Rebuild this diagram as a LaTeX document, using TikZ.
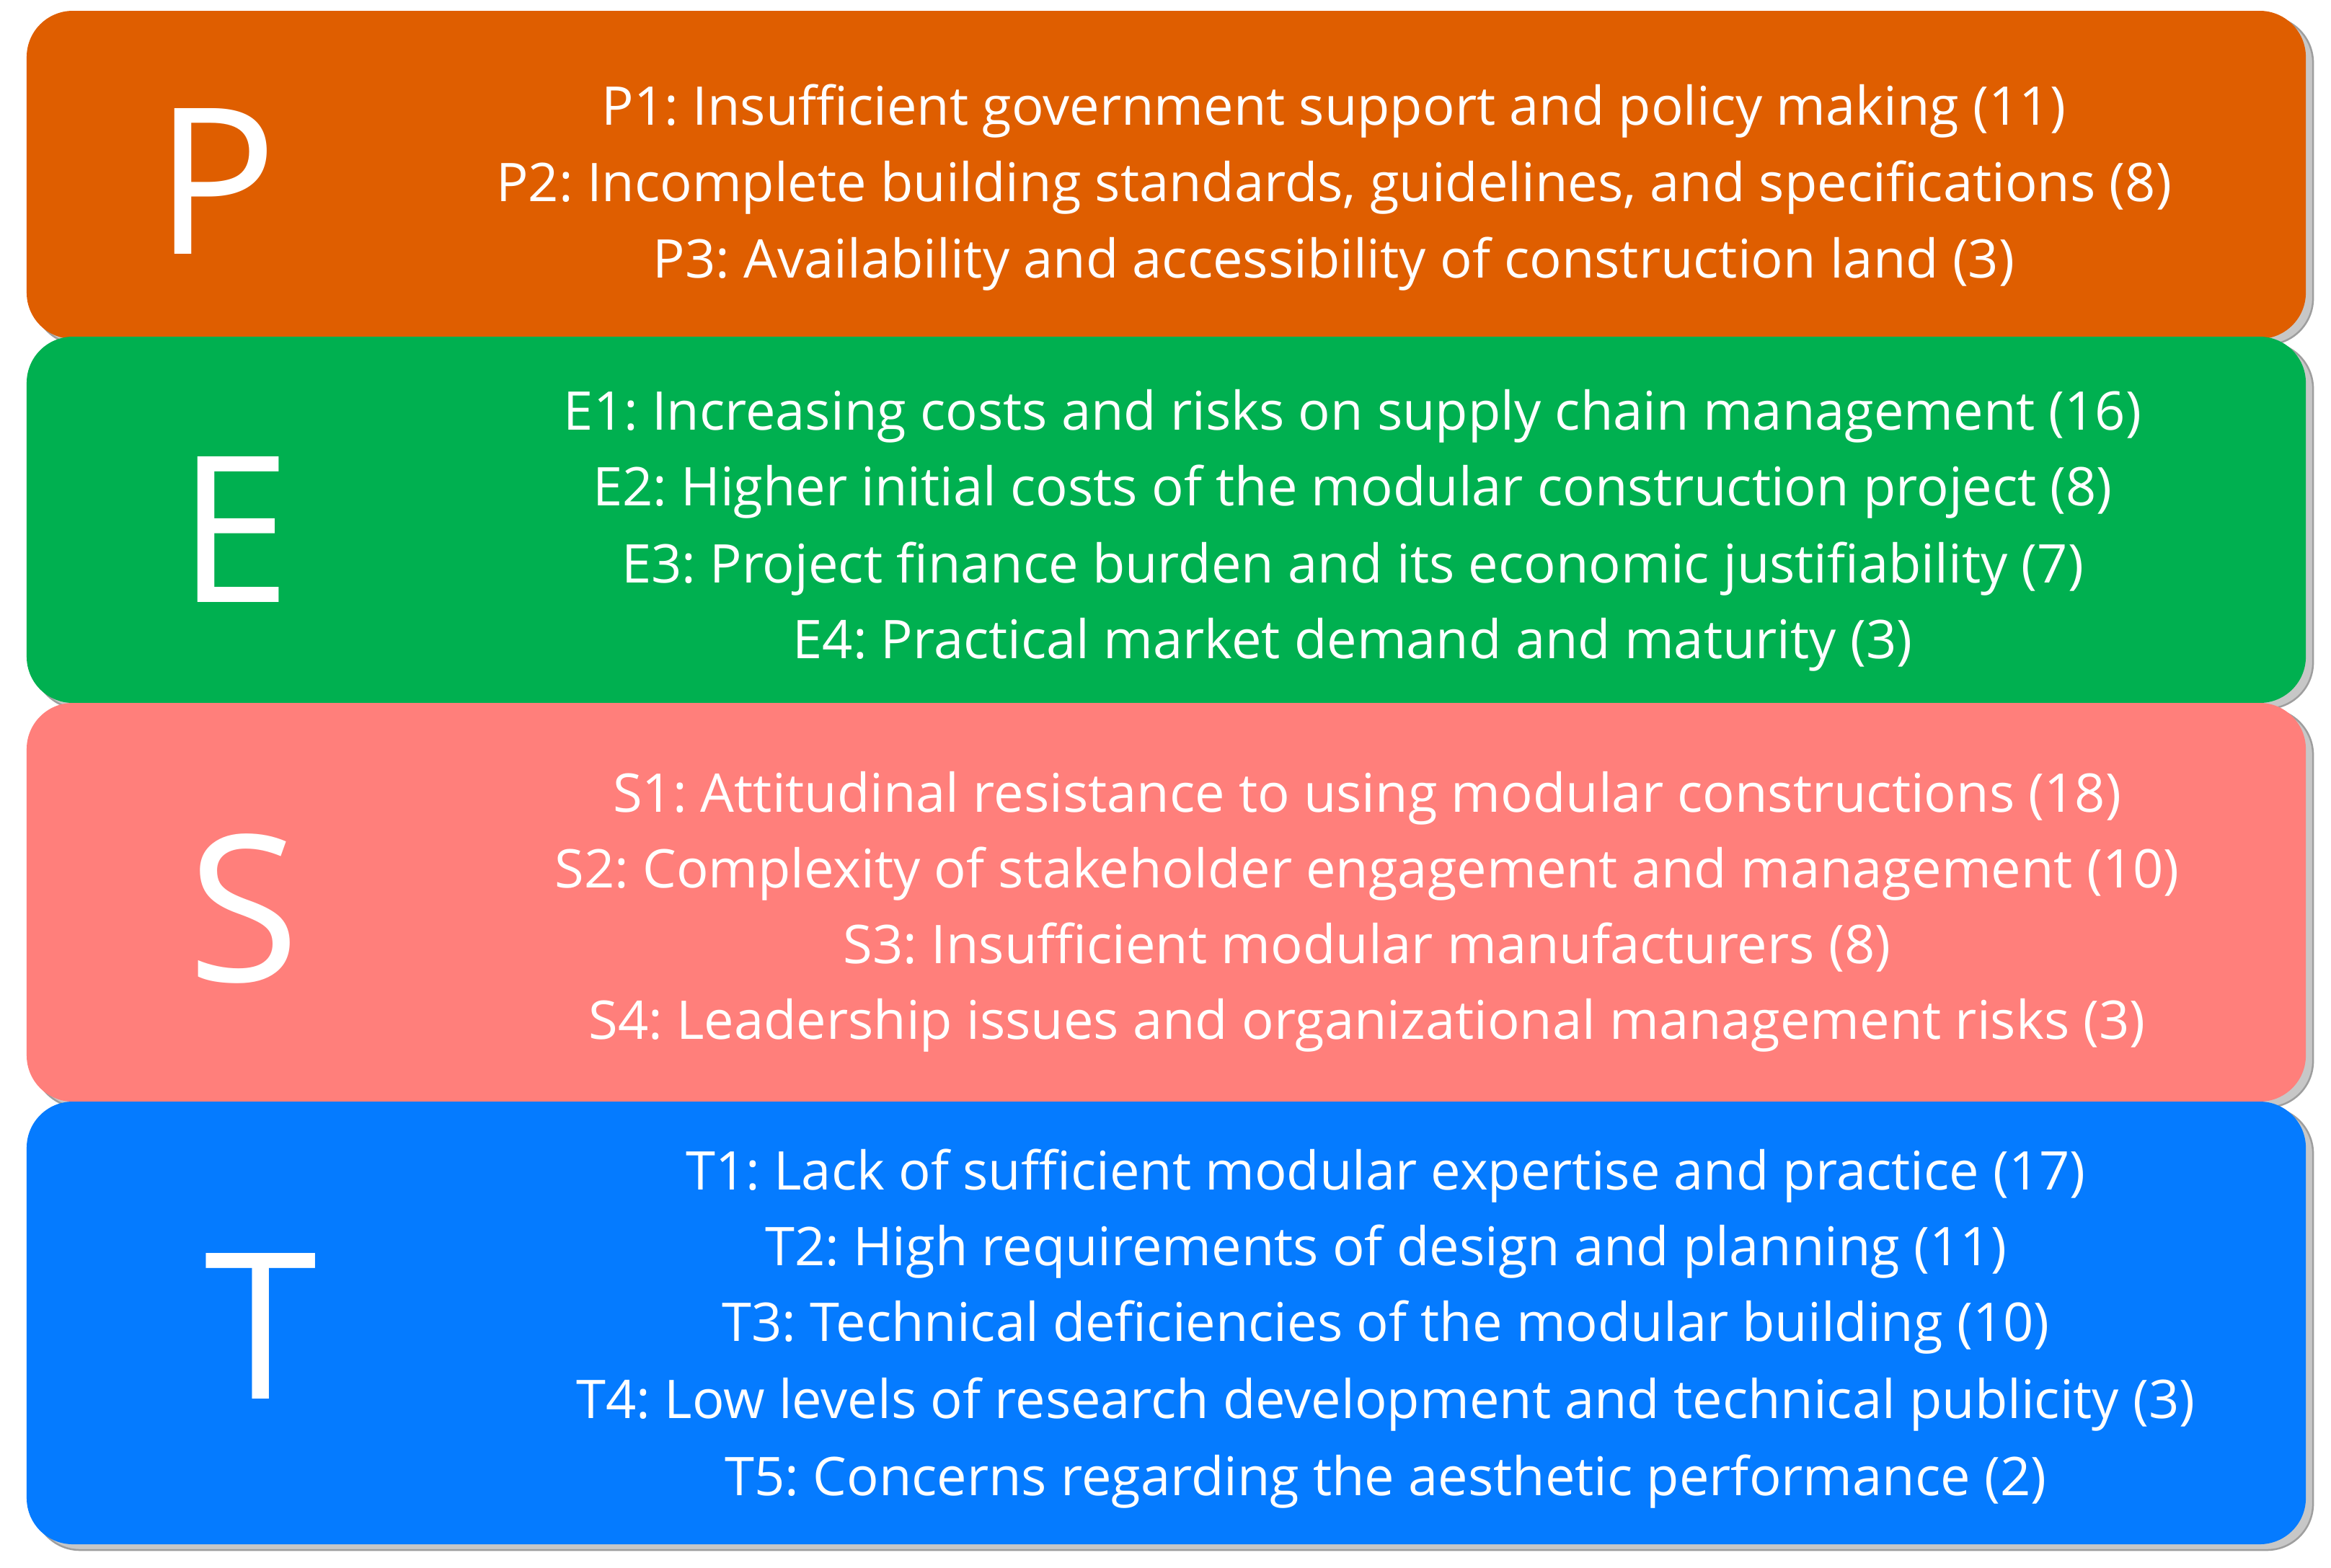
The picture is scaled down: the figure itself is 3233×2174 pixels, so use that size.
\documentclass[tikz,border=0pt]{standalone}
\usepackage{fontspec}
\setmainfont{Open Sans}
\usetikzlibrary{shadows}
\definecolor{cP}{RGB}{223,94,0}
\definecolor{cE}{RGB}{0,176,80}
\definecolor{cS}{RGB}{255,127,123}
\definecolor{cT}{RGB}{5,123,255}
\frenchspacing
\begin{document}
\begin{tikzpicture}[x=0.2pt,y=-0.2pt,
  band/.style={rectangle, rounded corners=12.8pt, minimum width=632.2pt, inner sep=0pt, draw=none,
    drop shadow={shadow xshift=2pt, shadow yshift=-1.6pt, fill=black!22, draw=black!38, line width=0.5pt, opacity=1}},
  bigletter/.style={text=white, anchor=base, inner sep=0pt, font=\fontsize{56.6}{60}\selectfont},
  item/.style={text=white, anchor=base, inner sep=0pt, font=\fontsize{14.8}{17.8}\selectfont\frenchspacing}]
\useasboundingbox (0,0) rectangle (3233,2174);
\fill[white] (0,0) rectangle (3233,2174);
% bands
\node[band, fill=cP, minimum height=91pt] (bP) at (1617.5,242.5) {};
\node[band, fill=cE, minimum height=101.6pt] (bE) at (1617.5,721) {};
\node[band, fill=cS, minimum height=110.6pt] (bS) at (1617.5,1251.5) {};
\node[band, fill=cT, minimum height=122.8pt] (bT) at (1617.5,1835) {};
% big letters
\node[bigletter] (lP) at (300,352) {P};
\node[bigletter] (lE) at (325,835) {E};
\node[bigletter] (lS) at (338,1361) {S};
\node[bigletter] (lT) at (362,1940) {T};
% P items
\node[item] (p1) at (1850,173) {P1: Insufficient government support and policy making (11)};
\node[item] (p2) at (1850,279) {P2: Incomplete building standards, guidelines, and specifications (8)};
\node[item] (p3) at (1850,385) {P3: Availability and accessibility of construction land (3)};
% E items
\node[item] (e1) at (1876,596) {E1: Increasing costs and risks on supply chain management (16)};
\node[item] (e2) at (1876,701) {E2: Higher initial costs of the modular construction project (8)};
\node[item] (e3) at (1876,808) {E3: Project finance burden and its economic justifiability (7)};
\node[item] (e4) at (1876,913) {E4: Practical market demand and maturity (3)};
% S items
\node[item] (s1) at (1896,1126) {S1: Attitudinal resistance to using modular constructions (18)};
\node[item] (s2) at (1896,1231) {S2: Complexity of stakeholder engagement and management (10)};
\node[item] (s3) at (1896,1336) {S3: Insufficient modular manufacturers (8)};
\node[item] (s4) at (1896,1441) {S4: Leadership issues and organizational management risks (3)};
% T items
\node[item] (t1) at (1922,1650) {T1: Lack of sufficient modular expertise and practice (17)};
\node[item] (t2) at (1922,1755) {T2: High requirements of design and planning (11)};
\node[item] (t3) at (1922,1860) {T3: Technical deficiencies of the modular building (10)};
\node[item] (t4) at (1922,1967) {T4: Low levels of research development and technical publicity (3)};
\node[item] (t5) at (1922,2074) {T5: Concerns regarding the aesthetic performance (2)};
\end{tikzpicture}
\end{document}
